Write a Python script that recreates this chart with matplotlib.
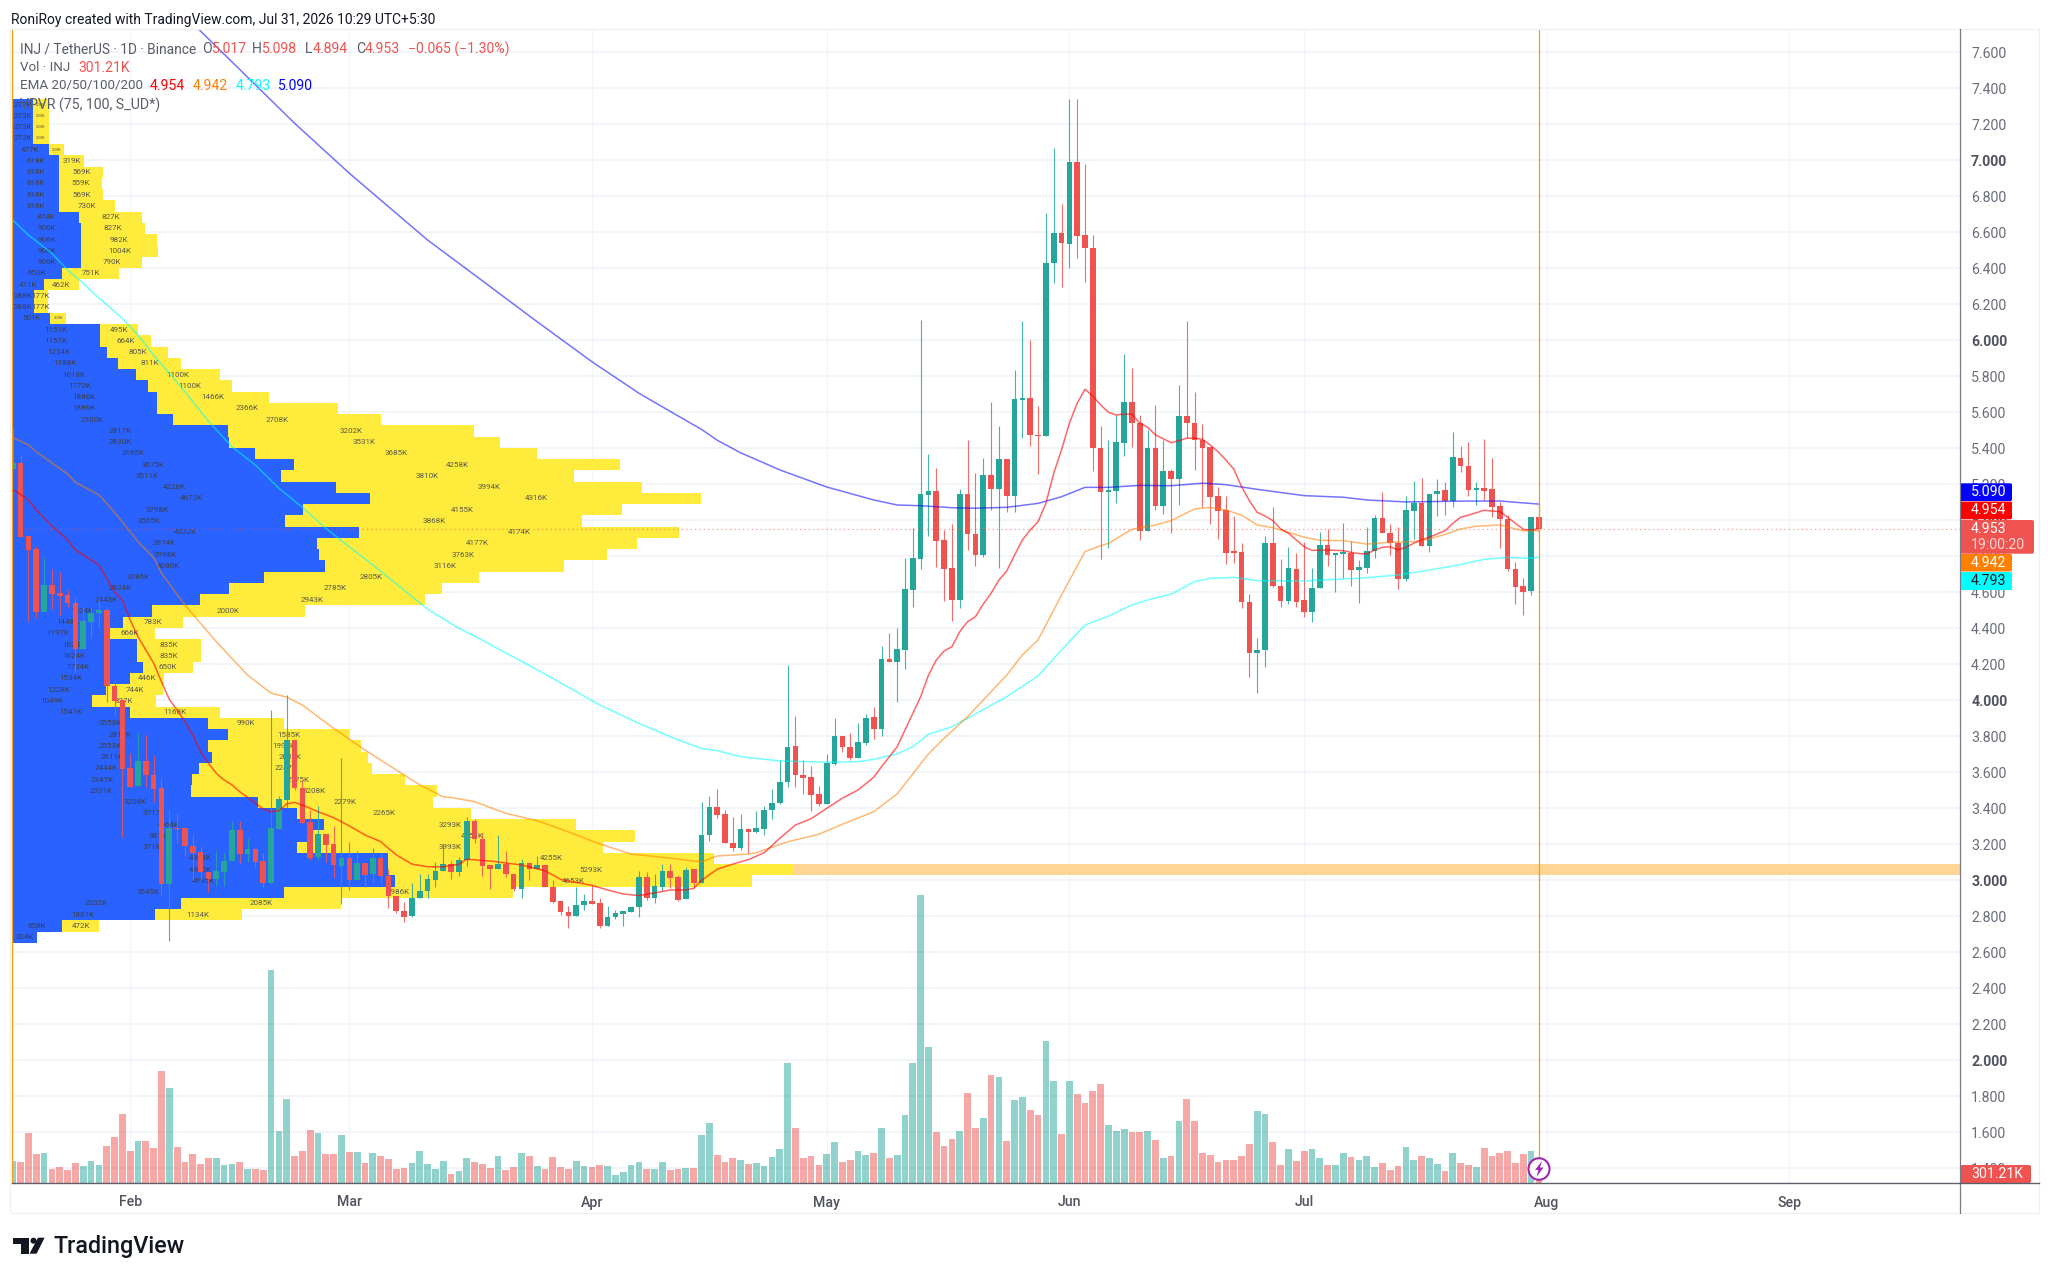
import matplotlib
matplotlib.use("Agg")
import matplotlib.pyplot as plt
import numpy as np
from matplotlib.patches import Rectangle, FancyBboxPatch, Polygon, Ellipse, Circle

plt.rcParams['font.family'] = ['Roboto', 'DejaVu Sans']

GREEN = "#26a69a"
RED = "#ef5350"

# days counted from Feb 1
days = np.arange(-15, 181)

opens = [5.285,5.317,4.913,4.84,4.492,4.64,4.596,4.585,4.539,4.285,
 4.437,4.485,4.5,4.08,4.0,3.624,3.524,3.663,3.585,3.513,
 2.98,3.292,3.29,3.192,3.157,3.048,3.007,3.048,3.105,3.28,
 3.145,3.172,3.105,2.985,3.287,3.448,3.78,3.513,3.325,3.132,
 3.257,3.2,3.08,3.125,3.0,3.096,3.033,3.125,3.025,2.91,
 2.83,2.803,2.9,2.94,3.0,3.05,3.093,3.044,3.113,3.33,
 3.231,3.086,3.063,3.093,3.037,2.95,3.095,3.063,3.087,2.96,
 2.885,2.824,2.803,2.86,2.885,2.875,2.746,2.794,2.815,2.825,
 2.85,3.017,2.903,2.965,3.053,3.017,2.895,3.063,2.987,3.252,
 3.405,3.367,3.206,3.18,3.285,3.27,3.285,3.388,3.43,3.545,
 3.746,3.585,3.572,3.48,3.424,3.646,3.8,3.74,3.68,3.763,
 3.906,3.84,4.228,4.21,4.281,4.615,4.785,5.142,5.163,4.89,
 4.733,4.557,5.146,4.922,4.807,5.252,5.174,5.34,5.135,5.668,
 5.681,5.476,5.467,6.431,6.598,6.537,6.989,6.585,6.511,5.403,
 5.159,5.164,5.43,5.657,5.542,4.941,5.401,5.08,5.274,5.23,
 5.58,5.542,5.446,5.405,5.133,5.057,4.822,4.822,4.548,4.265,
 4.28,4.874,4.637,4.553,4.729,4.557,4.492,4.626,4.863,4.808,
 4.813,4.82,4.724,4.737,4.831,5.015,4.93,4.872,4.676,5.052,
 5.098,4.859,5.146,5.167,5.107,5.346,5.302,5.17,5.18,5.172,
 5.079,5.007,4.729,4.635,4.607,5.017]
highs = [5.51,5.361,4.913,4.857,4.795,4.73,4.714,4.613,4.567,4.52,
 4.52,4.563,4.52,4.113,4.0,3.707,3.818,3.807,3.692,3.563,
 3.39,3.37,3.29,3.252,3.183,3.048,3.163,3.15,3.33,3.33,
 3.235,3.172,3.15,3.945,3.47,4.03,3.78,3.557,3.39,3.413,
 3.257,3.3,3.68,3.21,3.163,3.096,3.178,3.15,3.06,2.91,
 2.88,2.987,3.035,3.035,3.1,3.2,3.107,3.13,3.353,3.339,
 3.26,3.086,3.252,3.16,3.037,3.117,3.095,3.135,3.087,3.0,
 2.885,2.857,2.96,2.924,2.974,2.9,2.857,2.835,2.83,2.85,
 3.054,3.048,3.035,3.09,3.09,3.03,3.073,3.063,3.437,3.47,
 3.505,3.39,3.35,3.367,3.29,3.383,3.41,3.505,3.67,4.196,
 3.913,3.67,3.637,3.525,3.7,3.9,3.8,3.817,3.872,3.924,
 3.96,4.3,4.372,4.4,4.789,4.956,6.113,5.368,5.289,4.946,
 4.98,5.172,5.446,5.26,5.344,5.659,5.524,5.34,5.835,6.107,
 6.0,5.635,6.707,7.067,6.757,7.34,7.34,6.98,6.585,5.525,
 5.446,5.585,5.924,5.844,5.585,5.5,5.64,5.446,5.285,5.752,
 6.107,5.713,5.533,5.405,5.183,5.135,5.024,4.872,4.59,4.344,
 4.913,5.076,4.783,4.853,4.817,4.882,4.733,4.937,4.95,4.812,
 4.983,4.887,4.779,4.961,5.029,5.156,4.978,4.961,5.135,5.218,
 5.237,5.146,5.228,5.214,5.489,5.414,5.433,5.211,5.452,5.348,
 5.103,5.029,4.767,4.678,5.02,5.098]
lows = [5.285,4.909,4.442,4.456,4.492,4.505,4.474,4.517,4.159,4.285,
 4.344,4.4,3.99,3.913,3.24,3.519,3.524,3.52,3.437,2.92,
 2.66,3.206,3.14,3.0,3.0,2.937,2.97,2.97,3.105,3.095,
 3.1,3.075,2.96,2.985,3.287,3.40,3.50,3.32,3.11,3.11,
 3.103,3.013,2.87,2.947,3.0,2.96,2.99,2.983,2.845,2.82,
 2.767,2.797,2.9,2.90,2.965,3.05,3.007,3.025,3.08,3.205,
 3.025,2.952,3.063,3.017,2.94,2.903,3.0,3.063,2.96,2.872,
 2.807,2.733,2.803,2.835,2.868,2.737,2.746,2.785,2.748,2.825,
 2.798,2.89,2.875,2.94,2.955,2.887,2.895,2.955,2.987,3.22,
 3.345,3.206,3.165,3.17,3.15,3.26,3.25,3.34,3.424,3.517,
 3.52,3.48,3.387,3.41,3.424,3.64,3.711,3.67,3.678,3.753,
 3.785,3.803,4.21,3.99,4.174,4.52,4.73,4.91,4.742,4.55,
 4.44,4.51,4.835,4.748,4.798,5.057,4.735,5.048,5.048,5.459,
 5.41,5.257,5.467,6.32,6.298,6.403,6.459,6.326,5.276,4.783,
 4.848,5.094,5.359,5.409,4.89,4.941,5.057,5.035,4.93,5.085,
 5.457,5.28,5.075,4.98,4.896,4.757,4.765,4.511,4.128,4.042,
 4.187,4.628,4.52,4.535,4.52,4.461,4.433,4.626,4.748,4.6,
 4.681,4.637,4.539,4.706,4.792,4.93,4.807,4.618,4.665,4.896,
 4.859,4.822,5.025,5.029,5.075,5.27,5.137,5.085,5.113,5.017,
 4.848,4.718,4.535,4.474,4.585,4.894]
closes = [5.32,4.909,4.837,4.492,4.64,4.59,4.58,4.539,4.285,4.44,
 4.487,4.5,4.08,3.996,3.618,3.519,3.663,3.585,3.507,2.98,
 3.29,3.283,3.192,3.153,3.044,3.007,3.05,3.107,3.28,3.145,
 3.172,3.103,2.985,3.29,3.452,3.78,3.513,3.32,3.126,3.257,
 3.196,3.085,3.125,3.0,3.094,3.03,3.125,3.025,2.91,2.83,
 2.797,2.9,2.94,3.005,3.05,3.093,3.045,3.113,3.33,3.228,
 3.08,3.063,3.093,3.035,2.95,3.095,3.063,3.087,2.96,2.88,
 2.822,2.803,2.86,2.885,2.868,2.746,2.794,2.818,2.83,2.85,
 3.017,2.9,2.968,3.053,3.015,2.89,3.057,2.987,3.252,3.405,
 3.365,3.206,3.178,3.285,3.27,3.288,3.388,3.432,3.545,3.74,
 3.583,3.57,3.475,3.424,3.65,3.8,3.74,3.68,3.767,3.903,
 3.84,4.228,4.21,4.283,4.617,4.79,5.146,5.163,4.886,4.73,
 4.557,5.146,4.922,4.807,5.252,5.174,5.34,5.135,5.672,5.681,
 5.474,5.467,6.431,6.595,6.541,6.989,6.581,6.511,5.403,5.159,
 5.168,5.435,5.659,5.542,4.941,5.401,5.08,5.274,5.23,5.58,
 5.542,5.446,5.403,5.131,5.053,4.82,4.818,4.546,4.265,4.28,
 4.874,4.637,4.553,4.733,4.548,4.492,4.626,4.863,4.807,4.812,
 4.817,4.724,4.74,4.831,5.015,4.93,4.872,4.676,5.057,5.098,
 4.859,5.146,5.163,5.107,5.35,5.302,5.168,5.174,5.165,5.075,
 5.007,4.728,4.631,4.602,5.018,4.953]

# volume in thousands of INJ
volumes = [335,320,750,440,455,215,245,200,305,260,325,275,560,695,1040,
 480,625,635,530,1685,1430,545,320,435,290,380,380,275,290,320,215,215,200,3200,775,1265,405,480,800,755,435,440,725,
 470,470,305,455,405,365,215,230,300,485,290,215,335,140,185,375,320,290,230,400,190,245,455,405,260,215,395,245,215,325,260,245,275,260,115,165,275,320,215,215,320,200,215,230,230,
 720,895,415,310,370,345,290,295,255,390,510,1795,825,375,405,265,435,615,320,345,480,420,450,825,375,425,1020,1795,4325,2040,770,560,660,780,1345,825,975,1620,1590,630,1245,1290,1095,1020,2130,1530,740,1530,1335,1200,1380,1485,870,780,810,770,765,780,645,375,405,930,1260,930,450,425,315,345,345,400,580,1085,1030,610,265,510,330,475,505,370,265,265,450,
 395,345,410,245,300,190,260,535,350,410,380,290,185,450,295,270,245,530,410,450,480,305,430,480,301.21]

ema20_days = [-15,-13,-12,-10,-8,-7,-5,-4,-3,-2,-1,0,1,2,3,4,5,6,7,8,9,10,11,12,13,14,15,16,17,18,19,20,21,22,23,24,26,28,30,32,34,36,38,40,42,43,46,50,53,55,58,59,61,63,65,67,69,71,72,73,75,77,79,81,83,85,87,89,91,93,95,96,97,98,99,100,101,102,103,104,105,106,107,108,109,110,111,112,113,114,115,116,117,118,119,120,121,122,123,124,125,126,127,128,129,130,131,132,133,134,135,136,137,138,139,140,141,142,143,144,145,146,147,148,149,150,151,153,155,156,157,158,159,160,161,162,163,164,165,166,167,168,169,170,171,172,173,175,176,177,178,179,180]
ema20_vals = [5.172,5.113,5.057,4.968,4.891,4.835,4.78,4.752,4.678,4.603,4.557,4.446,4.353,4.28,4.206,4.103,4.005,3.946,3.881,3.807,3.714,3.65,3.594,3.557,3.53,3.492,3.461,3.428,3.396,3.381,3.387,3.424,3.433,3.418,3.4,3.381,3.348,3.302,3.252,3.215,3.141,3.09,3.075,3.075,3.089,3.117,3.107,3.085,3.053,3.005,2.98,2.972,2.946,2.924,2.915,2.93,2.946,2.946,2.955,3.0,3.061,3.09,3.115,3.153,3.233,3.307,3.342,3.4,3.456,3.502,3.572,3.631,3.687,3.742,3.835,3.928,4.02,4.14,4.224,4.274,4.298,4.381,4.437,4.464,4.535,4.594,4.668,4.718,4.807,4.891,4.946,4.992,5.094,5.261,5.391,5.539,5.65,5.728,5.69,5.641,5.6,5.585,5.59,5.589,5.539,5.517,5.474,5.453,5.431,5.442,5.456,5.456,5.45,5.418,5.381,5.335,5.285,5.187,5.109,5.044,5.024,4.998,4.952,4.928,4.891,4.853,4.833,4.835,4.831,4.822,4.815,4.813,4.835,4.85,4.853,4.835,4.85,4.872,4.891,4.906,4.924,4.942,4.983,5.017,5.029,5.042,5.056,5.048,5.017,4.983,4.95,4.946,4.954]

ema50_days = [-15,-13,-12,-8,-7,-4,-3,-1,1,3,4,7,11,15,18,20,22,26,30,35,37,40,41,44,48,52,55,60,64,68,72,73,75,79,80,84,88,91,95,98,102,104,107,112,114,116,119,122,124,125,128,131,133,136,138,140,142,144,146,150,152,155,158,161,164,166,168,170,172,175,177,178,180]
ema50_vals = [5.46,5.418,5.381,5.257,5.211,5.141,5.094,4.992,4.881,4.794,4.706,4.529,4.326,4.14,4.04,4.018,3.974,3.844,3.724,3.585,3.53,3.464,3.46,3.437,3.372,3.331,3.285,3.202,3.146,3.128,3.107,3.103,3.135,3.146,3.153,3.214,3.256,3.311,3.381,3.48,3.702,3.789,3.909,4.14,4.252,4.335,4.585,4.826,4.859,4.872,4.95,4.974,4.998,5.063,5.072,5.057,5.029,4.974,4.959,4.906,4.889,4.887,4.868,4.878,4.881,4.896,4.922,4.952,4.967,4.974,4.952,4.941,4.942]

ema100_days = [-15,-13,-10,-8,-6,-5,-1,1,3,5,7,10,13,16,19,22,25,27,31,38,42,44,53,60,65,70,73,75,78,83,89,93,95,98,100,102,105,107,112,116,119,122,125,128,130,133,136,138,141,144,150,154,157,162,164,169,173,176,178,180]
ema100_vals = [6.668,6.585,6.483,6.391,6.317,6.274,6.122,6.029,5.918,5.817,5.714,5.55,5.409,5.307,5.178,5.072,4.956,4.887,4.752,4.506,4.4,4.357,4.146,3.974,3.872,3.78,3.733,3.72,3.687,3.663,3.656,3.659,3.672,3.702,3.742,3.811,3.853,3.9,4.02,4.135,4.28,4.418,4.468,4.53,4.557,4.59,4.659,4.678,4.683,4.664,4.663,4.672,4.678,4.696,4.709,4.746,4.783,4.794,4.789,4.793]

ema200_days = [8,21,28,38,44,52,59,65,70,73,75,78,83,89,95,98,101,105,108,112,116,119,122,125,129,133,137,140,144,150,155,158,163,171,175,180]
ema200_vals = [7.76,7.206,6.928,6.557,6.363,6.103,5.881,5.706,5.58,5.505,5.445,5.375,5.28,5.185,5.113,5.085,5.081,5.07,5.067,5.072,5.094,5.131,5.183,5.183,5.194,5.192,5.206,5.198,5.172,5.137,5.128,5.113,5.102,5.107,5.107,5.09]

# visible range volume profile, top row first, thousands
vp_up = [273,273,273,273,477,618,618,618,618,618,874,906,906,906,906,650,411,288,288,501,1151,1151,1234,1388,1618,1772,1886,1886,2100,2817,
 2830,3165,3675,3511,4226,4672,3798,3565,4522,3974,3998,4086,3286,2824,2445,1824,1448,1197,1624,1624,1704,1534,1228,1049,1541,2553,2817,2553,2611,2444,2347,2331,3208,3717,4064,3871,3718,4903,4900,4995,3545,2202,1861,658,324]
vp_down = [203,203,203,203,203,319,569,559,569,730,827,827,982,1004,790,751,462,177,177,203,495,664,805,811,1100,1100,1466,2366,2708,3202,
 3531,3685,4258,3810,3994,4316,4155,3868,4174,4177,3763,3116,2805,2785,2943,2000,783,666,835,835,650,446,744,827,1168,990,1585,1991,2035,2247,2775,3208,2279,2265,3293,4251,3993,4255,5293,4653,2986,2085,1134,472,0]
vp_top = 7.34
vp_step = 0.0625

price_ticks = [1.4,1.6,1.8,2.0,2.2,2.4,2.6,2.8,3.0,3.2,3.4,3.6,3.8,4.0,4.2,4.4,4.6,4.8,5.0,5.2,5.4,5.6,5.8,6.0,6.2,6.4,6.6,6.8,7.0,7.2,7.4,7.6]
month_ticks = [0,28,59,89,120,150,181,212]
month_labels = ["Feb","Mar","Apr","May","Jun","Jul","Aug","Sep"]

opens, highs, lows, closes = map(np.array, (opens, highs, lows, closes))
volumes = np.array(volumes)
vp_up = np.array(vp_up)
vp_down = np.array(vp_down)
colors = [GREEN if c >= o else RED for o, c in zip(opens, closes)]

W, H = 2048, 1279
fig = plt.figure(figsize=(W/100, H/100), dpi=100, facecolor="white")
rect = [12/W, 1-1183/H, (1960-12)/W, (1183-29)/H]
xlim = (-15.10, 233.8)
ylim = (1.3183, 7.7294)

# grid and tick labels live on the bottom layer
ax_bg = fig.add_axes(rect, zorder=0)
ax_bg.set_xlim(xlim)
ax_bg.set_ylim(ylim)
ax_bg.set_yticks(price_ticks)
ax_bg.set_yticklabels(["%.3f" % p for p in price_ticks])
ax_bg.yaxis.tick_right()
ax_bg.set_xticks(month_ticks)
ax_bg.set_xticklabels(month_labels)
ax_bg.tick_params(axis="y", length=0, pad=8, labelsize=10.2, labelcolor="#6a6d78")
ax_bg.tick_params(axis="x", length=0, pad=9, labelsize=10.2, labelcolor="#50535e")
for lab, p in zip(ax_bg.get_yticklabels(), price_ticks):
    if abs(p - round(p)) < 1e-6:
        lab.set_fontweight("bold")
        lab.set_color("#50535e")
for lab in ax_bg.get_xticklabels():
    lab.set_fontweight("medium")
ax_bg.grid(axis="y", color="#eef1f6", lw=1.1)
ax_bg.grid(axis="x", color="#f2f5fa", lw=1.0)
ax_bg.set_axisbelow(True)
for s in ax_bg.spines.values():
    s.set_visible(False)

# volume profile
ax_vp = fig.add_axes(rect, zorder=1)
ax_vp.patch.set_alpha(0)
ax_vp.set_xlim(0, (1960-12)/0.0767)
ax_vp.set_ylim(ylim)
ax_vp.axis("off")
row_y = vp_top - vp_step*(np.arange(len(vp_up)) + 0.5)
ax_vp.barh(row_y, vp_up, height=vp_step, color="#2962ff", lw=0)
ax_vp.barh(row_y, vp_down, left=vp_up, height=vp_step, color="#ffeb3b", lw=0)
poc = np.argmax(vp_up + vp_down)
ax_vp.barh(row_y[poc], ax_vp.get_xlim()[1] - vp_up[poc] - vp_down[poc], left=vp_up[poc] + vp_down[poc],
           height=vp_step, color="#ffd494", lw=0)
for y, u, d in zip(row_y, vp_up, vp_down):
    ax_vp.text(u/2, y, "%dK" % u, fontsize=5.8, color="#3c3f4a", ha="center", va="center")
    if d > 0:
        fs = 3 if d == 203 else 5.8
        ax_vp.text(u + d/2, y, "%dK" % d, fontsize=fs, color="#5a5a4c", ha="center", va="center")

# volume bars
ax_vol = fig.add_axes(rect, zorder=2)
ax_vol.patch.set_alpha(0)
ax_vol.set_xlim(xlim)
ax_vol.set_ylim(0, 1154*15)
ax_vol.axis("off")
ax_vol.bar(days, volumes, width=0.86, color=colors, alpha=0.5, lw=0)

# candles and averages
ax = fig.add_axes(rect, zorder=3)
ax.patch.set_alpha(0)
ax.set_xlim(xlim)
ax.set_ylim(ylim)
ax.axis("off")
ax.axhline(closes[-1], color=RED, lw=0.9, ls=(0, (1, 2.5)), alpha=0.6)
ax.vlines(days, lows, highs, colors=colors, lw=0.8, alpha=0.85)
body_low = np.minimum(opens, closes)
body_h = np.maximum(np.abs(closes - opens), 0.009)
ax.bar(days, body_h, bottom=body_low, width=0.72, color=colors, lw=0)
ax.plot(ema200_days, ema200_vals, color="#0000ff", lw=1.1, alpha=0.55)
ax.plot(ema100_days, ema100_vals, color="#00ffff", lw=1.1, alpha=0.55)
ax.plot(ema50_days, ema50_vals, color="#ff7f00", lw=1.1, alpha=0.55)
ax.plot(ema20_days, ema20_vals, color="#ff0000", lw=1.1, alpha=0.6)
ax.axvline(days[-1], color="#f59d0d", lw=0.9)

# chrome in pixel coordinates
ov = fig.add_axes([0, 0, 1, 1], zorder=4)
ov.patch.set_alpha(0)
ov.set_xlim(0, W)
ov.set_ylim(H, 0)
ov.axis("off")

ov.plot([12, 12], [29, 1183], color="#f59d0d", lw=0.9)
ov.plot([10, 2039, 2039, 10, 10], [29, 29, 1213, 1213, 29], color="#eef0f4", lw=0.9)
ov.plot([1960, 1960], [29, 1213], color="#787b86", lw=0.9)
ov.plot([12, 2039], [1183, 1183], color="#5d606b", lw=1.0)

ov.text(11, 20, "RoniRoy created with TradingView.com, Jul 31, 2026 10:29 UTC+5:30", fontsize=10, color="#131722", va="center")

grey = "#5a5d68"
ov.text(20, 49, "INJ / TetherUS · 1D · Binance", fontsize=9.9, color=grey, va="center")
for x, t, c in [(202, "O", grey), (212, "5.017", RED), (252, "H", grey), (262, "5.098", RED),
                (305, "L", grey), (312.5, "4.894", RED), (356, "C", grey), (365, "4.953", RED),
                (408.5, "\u22120.065 (\u22121.30%)", RED)]:
    ov.text(x, 49, t, fontsize=10.1, color=c, va="center")
ov.text(20, 67.5, "Vol · INJ", fontsize=9.6, color=grey, va="center")
ov.text(78, 67.5, "301.21K", fontsize=10.1, color=RED, va="center")
ov.text(20, 86, "EMA 20/50/100/200", fontsize=9.6, color=grey, va="center")
for x, t, c in [(149.5, "4.954", "#ff0000"), (193, "4.942", "#ff7f00"), (236, "4.793", "#00ffff"), (278, "5.090", "#0000ff")]:
    ov.text(x, 86, t, fontsize=10.1, color=c, va="center")
ov.text(20, 105, "VPVR (75, 100, S_UD*)", fontsize=10.2, color=grey, va="center")

# price labels on the right scale
for top, bot, c, t, tc in [(483.3, 501, "#0000ff", "5.090", "white"), (501.5, 519.3, "#ff0000", "4.954", "white"),
                           (554, 571.5, "#ff7f00", "4.942", "white"), (572, 590, "#00ffff", "4.793", "#131722")]:
    ov.add_patch(FancyBboxPatch((1960, top), 52, bot-top, boxstyle="round,pad=0,rounding_size=1.5", fc=c, ec="none"))
    ov.text(1971, (top+bot)/2, t, fontsize=10.2, color=tc, va="center")
ov.add_patch(FancyBboxPatch((1960, 520), 74, 33.7, boxstyle="round,pad=0,rounding_size=2", fc=RED, ec="none"))
ov.text(1971, 529, "4.953", fontsize=10.2, color="white", va="center")
ov.text(1971, 545, "19:00:20", fontsize=10.2, color="#fbd4d3", va="center")
ov.add_patch(FancyBboxPatch((1960, 1165), 71, 18, boxstyle="round,pad=0,rounding_size=2", fc=RED, ec="none"))
ov.text(1971, 1174, "301.21K", fontsize=10.2, color="white", va="center")

# lightning badge on the last bar
ov.add_patch(Ellipse((1539, 1169), 21, 21.5, fc="white", ec="#9c27b0", lw=1.5))
ov.add_patch(Polygon([(1542, 1161), (1535, 1170), (1538.5, 1170), (1536.5, 1177), (1543.5, 1167.5), (1540, 1167.5)], fc="#9c27b0", ec="none"))

# TradingView logo
ov.add_patch(Rectangle((12.5, 1237.7), 16.1, 6, fc="#131722", ec="none"))
ov.add_patch(Rectangle((21, 1237.7), 7.6, 16, fc="#131722", ec="none"))
ov.add_patch(Circle((33.5, 1240.7), 3, fc="#131722", ec="none"))
ov.add_patch(Polygon([(38, 1237.7), (44.6, 1237.7), (36.6, 1253.7), (29.5, 1253.7)], fc="#131722", ec="none"))
ov.text(53, 1246, "TradingView", fontsize=16.8, color="#131722", fontweight="medium", va="center")

fig.savefig("out.png", dpi=100)
